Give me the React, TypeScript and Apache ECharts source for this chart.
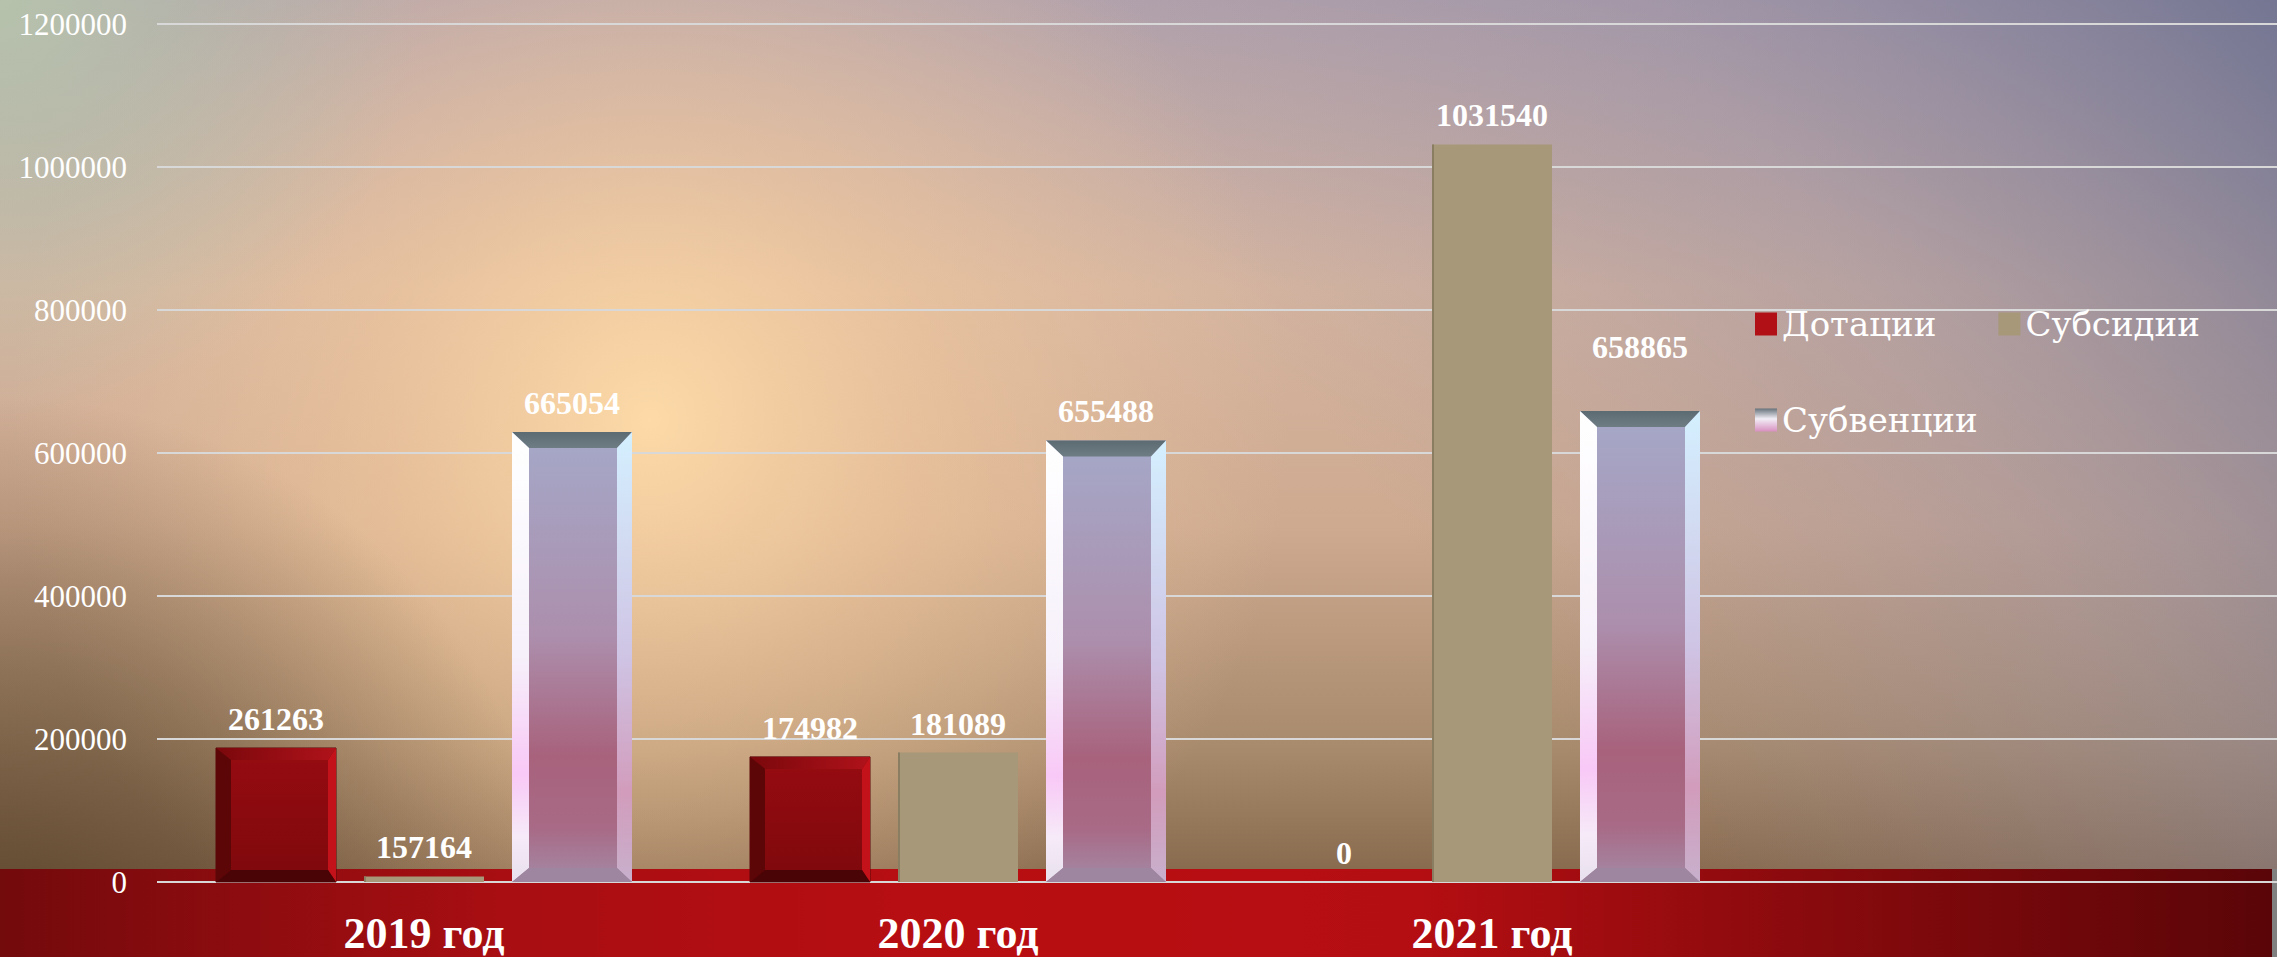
import { useEffect, useRef } from "react";
import * as echarts from "echarts";

// ---- data ----
const YEARS = ["2019 год", "2020 год", "2021 год"];
const SERIES_NAMES = ["Дотации", "Субсидии", "Субвенции"];
// bar heights as drawn in the picture
const DOTATIONS = [187400, 174982, 0];
const SUBSIDIES = [7800, 181089, 1031540];
const SUBVENTIONS = [629400, 617600, 658865];
// value labels as printed in the picture
const DOTATIONS_LABELS = ["261263", "174982", "0"];
const SUBSIDIES_LABELS = ["157164", "181089", "1031540"];
const SUBVENTIONS_LABELS = ["665054", "655488", "658865"];
const Y_MIN = 0;
const Y_MAX = 1200000;
const Y_STEP = 200000;

const W = 2277;
const H = 957;

const lin = (x: number, y: number, x2: number, y2: number, stops: [number, string][], global = false) => ({
  type: "linear",
  x,
  y,
  x2,
  y2,
  global,
  colorStops: stops.map(([offset, color]) => ({ offset, color })),
});
const rad = (x: number, y: number, r: number, stops: [number, string][]) => ({
  type: "radial",
  x,
  y,
  r,
  global: true,
  colorStops: stops.map(([offset, color]) => ({ offset, color })),
});

function makeRender(kind: number, labels: string[], labelShift: Record<number, number>) {
  return (params: any, api: any) => {
    const cat = api.value(0);
    const val = api.value(1);
    const top = api.coord([cat, val]);
    const base = api.coord([cat, 0]);
    const band = api.size([1, 0])[0];
    const bw = (band * 120) / 534;
    const cx = top[0] + ((kind - 1) * band * 148) / 534;
    const x = cx - bw / 2;
    const y = top[1];
    const h = base[1] - top[1];
    const children: any[] = [];
    if (kind === 0 && h > 0) {
      const L = 15, R = 8, T = 12, B = 12;
      children.push({ type: "rect", shape: { x, y, width: bw, height: h }, style: { fill: "#7c090c", stroke: "#5a0608", lineWidth: 1 } });
      if (h > T + B + 4) {
        children.push({
          type: "polygon",
          shape: { points: [[x, y], [x + bw, y], [x + bw - R, y + T], [x + L, y + T]] },
          style: { fill: lin(0, 0, 1, 0, [[0, "#7a080c"], [1, "#b0121a"]]) },
        });
        children.push({
          type: "polygon",
          shape: { points: [[x, y], [x + L, y + T], [x + L, y + h - B], [x, y + h]] },
          style: { fill: "#5c0608" },
        });
        children.push({
          type: "polygon",
          shape: { points: [[x + bw, y], [x + bw, y + h], [x + bw - R, y + h - B], [x + bw - R, y + T]] },
          style: { fill: "#c3121a" },
        });
        children.push({
          type: "polygon",
          shape: { points: [[x, y + h], [x + L, y + h - B], [x + bw - R, y + h - B], [x + bw, y + h]] },
          style: { fill: "#4a0406" },
        });
        children.push({
          type: "rect",
          shape: { x: x + L, y: y + T, width: bw - L - R, height: h - T - B },
          style: { fill: lin(0, 0, 0, 1, [[0, "#940b10"], [1, "#80090d"]]) },
        });
      }
    } else if (kind === 1 && h > 0) {
      children.push({ type: "rect", shape: { x, y, width: bw, height: h }, style: { fill: "#a69878" } });
      children.push({ type: "rect", shape: { x, y, width: 2, height: h }, style: { fill: "#8a7e62" } });
    } else if (kind === 2 && h > 0) {
      const L = 17, R = 15, T = 16, B = 14;
      children.push({
        type: "rect",
        shape: { x, y, width: bw, height: h },
        style: {
          fill: lin(0, 0, 0, 1, [
            [0, "#a5a8c8"],
            [0.45, "#ac8fad"],
            [0.72, "#a8627c"],
            [0.88, "#a86a86"],
            [1, "#a48aa6"],
          ]),
        },
      });
      children.push({
        type: "polygon",
        shape: { points: [[x, y], [x + bw, y], [x + bw - R, y + T], [x + L, y + T]] },
        style: { fill: lin(0, 0, 0, 1, [[0, "#5c6a72"], [1, "#6e7c84"]]) },
      });
      children.push({
        type: "polygon",
        shape: { points: [[x, y], [x + L, y + T], [x + L, y + h - B], [x, y + h]] },
        style: {
          fill: lin(0, 0, 0, 1, [
            [0, "#ffffff"],
            [0.5, "#f6f0fa"],
            [0.76, "#f8c8f6"],
            [0.9, "#f6eaf8"],
            [1, "#e8e0ee"],
          ]),
        },
      });
      children.push({
        type: "polygon",
        shape: { points: [[x + bw, y], [x + bw, y + h], [x + bw - R, y + h - B], [x + bw - R, y + T]] },
        style: {
          fill: lin(0, 0, 0, 1, [
            [0, "#d4f0ff"],
            [0.5, "#cfc4e4"],
            [0.8, "#d29cbc"],
            [1, "#c8b0cc"],
          ]),
        },
      });
      children.push({
        type: "polygon",
        shape: { points: [[x, y + h], [x + L, y + h - B], [x + bw - R, y + h - B], [x + bw, y + h]] },
        style: { fill: "#9e86a0" },
      });
    }
    children.push({
      type: "text",
      x: cx,
      y: y - 29 - (labelShift[params.dataIndex] || 0),
      style: {
        text: labels[params.dataIndex],
        fill: "#ffffff",
        fontFamily: "Liberation Serif",
        fontWeight: "bold",
        fontSize: 32,
        align: "center",
        verticalAlign: "middle",
      },
    });
    return { type: "group", children };
  };
}

export default function App() {
  const ref = useRef<HTMLDivElement>(null);
  useEffect(() => {
    if (!ref.current) return;
    const chart = echarts.init(ref.current, null, { renderer: "svg" });
    const seriesDefs = [
      { name: SERIES_NAMES[0], values: DOTATIONS, labels: DOTATIONS_LABELS, color: "#b01016", shift: {} },
      { name: SERIES_NAMES[1], values: SUBSIDIES, labels: SUBSIDIES_LABELS, color: "#a69878", shift: {} },
      {
        name: SERIES_NAMES[2],
        values: SUBVENTIONS,
        labels: SUBVENTIONS_LABELS,
        color: lin(0, 0, 0, 1, [[0, "#66727a"], [0.45, "#f2eef6"], [1, "#d890c0"]]),
        shift: { 2: 35 },
      },
    ];
    const bgRect = (z: number, fill: any) => ({
      type: "rect",
      z,
      silent: true,
      shape: { x: 0, y: 0, width: W, height: H },
      style: { fill },
    });
    chart.setOption({
      animation: false,
      graphic: [
        bgRect(
          -100,
          lin(0, 0, 0, H, [
            [0, "#b2a2ac"],
            [0.3, "#d4b4a0"],
            [0.55, "#ceaa90"],
            [0.78, "#a88a6c"],
            [0.92, "#86684c"],
          ], true)
        ),
        bgRect(
          -99,
          rad(650, 420, 640, [
            [0, "rgba(255,220,168,0.95)"],
            [0.45, "rgba(246,204,158,0.55)"],
            [1, "rgba(240,200,160,0)"],
          ])
        ),
        bgRect(
          -98,
          lin(W, 0, 1450, 600, [
            [0, "rgba(105,110,142,0.85)"],
            [0.5, "rgba(140,135,162,0.4)"],
            [1, "rgba(150,140,160,0)"],
          ], true)
        ),
        bgRect(
          -97,
          rad(0, 0, 420, [
            [0, "rgba(182,196,172,0.95)"],
            [1, "rgba(182,196,172,0)"],
          ])
        ),
        bgRect(
          -96,
          rad(0, 957, 560, [
            [0, "rgba(92,70,46,0.9)"],
            [1, "rgba(92,70,46,0)"],
          ])
        ),
        {
          type: "rect",
          z: -90,
          silent: true,
          shape: { x: 0, y: 869, width: 2272, height: H - 869 },
          style: {
            fill: lin(0, 0, 2272, 0, [
              [0, "#730a0c"],
              [0.22, "#a80e12"],
              [0.42, "#b80e12"],
              [0.62, "#b50e12"],
              [0.8, "#880a0d"],
              [1, "#5a0508"],
            ], true),
          },
        },
        {
          type: "rect",
          z: -90,
          silent: true,
          shape: { x: 2272, y: 869, width: 5, height: H - 869 },
          style: { fill: "#808080" },
        },
      ],
      legend: {
        data: SERIES_NAMES,
        left: 1755,
        top: 307,
        width: 480,
        orient: "horizontal",
        itemGap: 62,
        itemWidth: 22,
        itemHeight: 23,
        padding: 0,
        icon: "rect",
        textStyle: { color: "#ffffff", fontFamily: "DejaVu Serif", fontSize: 34 },
      },
      grid: [
        { left: 157, top: 24, width: 1602, height: 858 },
        { left: 157, top: 24, right: 0, height: 858 },
      ],
      xAxis: [
        {
          type: "category",
          gridIndex: 0,
          data: YEARS,
          axisLine: { show: false },
          axisTick: { show: false },
          axisLabel: {
            color: "#ffffff",
            fontFamily: "Liberation Serif",
            fontWeight: "bold",
            fontSize: 44,
            lineHeight: 40,
            margin: 31,
          },
        },
        { type: "value", gridIndex: 1, show: false, min: 0, max: 1 },
      ],
      yAxis: [
        {
          type: "value",
          gridIndex: 0,
          min: Y_MIN,
          max: Y_MAX,
          interval: Y_STEP,
          axisLine: { show: false },
          axisTick: { show: false },
          axisLabel: {
            color: "#ffffff",
            fontFamily: "Liberation Serif",
            fontSize: 31,
            margin: 30,
            formatter: (v: number) => String(v),
          },
          splitLine: { show: false },
        },
        {
          type: "value",
          gridIndex: 1,
          min: Y_MIN,
          max: Y_MAX,
          interval: Y_STEP,
          axisLine: { show: false },
          axisTick: { show: false },
          axisLabel: { show: false },
          splitLine: { show: true, lineStyle: { color: "#d8d8d8", width: 2 } },
        },
      ],
      series: seriesDefs.map((s, k) => ({
        type: "custom",
        name: s.name,
        coordinateSystem: "cartesian2d",
        xAxisIndex: 0,
        yAxisIndex: 0,
        clip: false,
        encode: { x: 0, y: 1 },
        itemStyle: { color: s.color },
        data: s.values.map((v, i) => [i, v]),
        renderItem: makeRender(k, s.labels, s.shift),
      })),
    });
    return () => chart.dispose();
  }, []);
  return (
    <div
      ref={ref}
      style={{ position: "absolute", left: 0, top: 0, width: W, height: H, overflow: "hidden" }}
    />
  );
}
